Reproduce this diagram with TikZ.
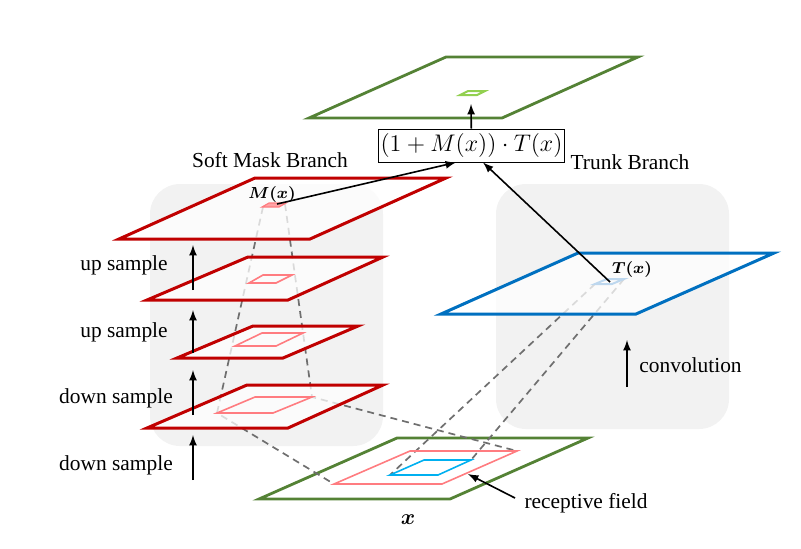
\documentclass[tikz,border=0pt]{standalone}
\usepackage{fontspec}
\setmainfont{Liberation Serif}
\usepackage{bm}
\definecolor{c_red}{HTML}{C00000}
\definecolor{c_pink}{HTML}{FF7C80}
\definecolor{c_green}{HTML}{548235}
\definecolor{c_lime}{HTML}{92D050}
\definecolor{c_blue}{HTML}{0070C0}
\definecolor{c_cyan}{HTML}{00B0F0}
\definecolor{c_sky}{HTML}{BDD7EE}
\definecolor{c_bg}{HTML}{F2F2F2}
\definecolor{c_dash}{HTML}{6F6F6F}
\tikzset{
  x=0.5pt, y=-0.5pt, >=latex,
  plane/.style = {line width=1.5pt, line join=miter},
  plane_r/.style = {plane, draw=c_red, fill=white, fill opacity=0.75},
  plane_b/.style = {plane, draw=c_blue, fill=white, fill opacity=0.75},
  plane_g/.style = {plane, draw=c_green, line width=1.4pt},
  rf_r/.style = {draw=c_pink, line width=0.8pt},
  rf_b/.style = {draw=c_cyan, line width=0.8pt},
  bg_box/.style = {fill=c_bg, rounded corners=15pt},
  dash_l/.style = {draw=c_dash, line width=0.85pt, dash pattern=on 3.5pt off 2.5pt},
  lbl/.style = {inner sep=0pt, font=\fontsize{10.7}{12}\selectfont},
  sym/.style = {inner sep=0pt, font=\fontsize{8.5}{10}\selectfont},
  up_arr/.style = {->, line width=0.8pt}
}
\begin{document}
\begin{tikzpicture}
\useasboundingbox (0,0) rectangle (801,548);
\fill[bg_box] (150,184) rectangle (383,446);
\fill[bg_box] (496,184) rectangle (729,429);

\coordinate (msq_l) at (263,207);
\coordinate (msq_r) at (285,204);
\coordinate (r4_l) at (217,413);
\coordinate (r4_r) at (312,397);
\coordinate (rf_l) at (334,484);
\coordinate (rf_r) at (517,451);
\coordinate (tsq_l) at (595,284);
\coordinate (tsq_r) at (624,279);
\coordinate (bl_l) at (390,475);
\coordinate (bl_r) at (471,460);

\draw[plane_g] (259,499) -- (450,499) -- (588,438) -- (397,438) -- cycle;
\draw[dash_l] (msq_l) -- (r4_l) -- (rf_l);
\draw[dash_l] (msq_r) -- (r4_r) -- (rf_r);
\draw[dash_l] (tsq_l) -- (bl_l);
\draw[dash_l] (tsq_r) -- (bl_r);

\draw[plane_r] (119,239) -- (310,239) -- (446,178) -- (255,178) -- cycle;
\draw[plane_r] (147,300) -- (288,300) -- (383,257) -- (248,257) -- cycle;
\draw[plane_r] (177,358) -- (283,358) -- (358,326) -- (253,326) -- cycle;
\draw[plane_r] (147,428) -- (288,428) -- (383,385) -- (247,385) -- cycle;
\draw[plane_b] (441,314) -- (636,314) -- (774,253) -- (578,253) -- cycle;
\draw[plane_g] (309,118) -- (502,118) -- (638,57) -- (446,57) -- cycle;

\draw[rf_r] (249,283) -- (276,283) -- (292,275) -- (263,275) -- cycle;
\draw[rf_r] (235,346) -- (276,346) -- (303,333) -- (262,333) -- cycle;
\draw[rf_r] (r4_l) -- (273,413) -- (r4_r) -- (255,397) -- cycle;
\draw[rf_r] (rf_l) -- (442,484) -- (rf_r) -- (410,451) -- cycle;
\draw[rf_b] (bl_l) -- (438,475) -- (bl_r) -- (424,460) -- cycle;
\draw[c_pink, fill=c_pink!70, line width=0.6pt] (262,207) -- (279,207) -- (286,203) -- (269,203) -- cycle;
\draw[c_sky, line width=1pt] (tsq_l) -- (612,284) -- (tsq_r) -- (607,279) -- cycle;
\draw[c_lime, line width=1pt] (460,95) -- (477,95) -- (485,91) -- (468,91) -- cycle;

\node[draw, inner sep=1pt, minimum width=88.5pt, minimum height=16.5pt,
	font=\fontsize{11.8}{13}\selectfont] (fx) at (471.5,145.5) {$\big(1+M(x)\big)\cdot T(x)$};
\coordinate (g_top) at (471,104);
\coordinate (msq) at (277,204);
\coordinate (tsq) at (610,282);
\draw[->, line width=0.8pt] (fx) -- (g_top);
\draw[->, line width=0.8pt] (msq) -- ([xshift=-7.75pt]fx.south);
\draw[->, line width=0.8pt] (tsq) -- ([xshift=5.75pt]fx.south);

\node[sym] (m_lbl) at (272,194) {$\bm{M(x)}$};
\node[sym] (t_lbl) at (632,269) {$\bm{T(x)}$};
\node[lbl, font=\fontsize{10.5}{12}\selectfont] (x_lbl) at (408,520) {$\bm{x}$};

\node[lbl] (soft) at (270,160) {Soft Mask Branch};
\node[lbl] (trunk) at (630,162) {Trunk Branch};
\node[lbl] (up_a) at (124,265) {up sample};
\node[lbl] (up_b) at (124,332) {up sample};
\node[lbl] (down_a) at (116,398) {down sample};
\node[lbl] (down_b) at (116,465) {down sample};
\node[lbl, anchor=west] (conv) at (639,365) {convolution};
\node[lbl] (rf_lbl) at (586,503) {receptive field};

\foreach \a/\b [count=\i] in {290/245,353/310,415/370,480/435}{
	\coordinate (s\i_a) at (193,\a);
	\coordinate (s\i_b) at (193,\b);
	\draw[up_arr] (s\i_a) -- (s\i_b);
}
\coordinate (c_a) at (627,387);
\coordinate (c_b) at (627,340);
\draw[up_arr] (c_a) -- (c_b);
\coordinate (rf_tail) at (515,498);
\coordinate (rf_tip) at (468,474);
\draw[->, line width=0.8pt] (rf_tail) -- (rf_tip);
\end{tikzpicture}
\end{document}
